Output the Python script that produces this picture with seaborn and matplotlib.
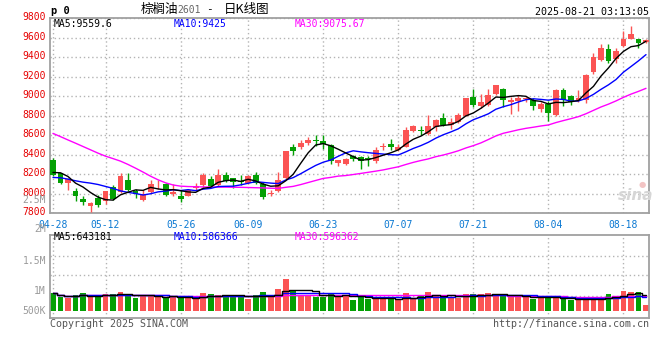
import numpy as np
import pandas as pd
import matplotlib
matplotlib.use("Agg")
import matplotlib.pyplot as plt
import matplotlib.transforms as mtransforms
import seaborn as sns

# trading days 2025-04-28 .. 2025-08-21 (Labour Day and Dragon Boat holidays closed)
holidays = ["2025-05-01", "2025-05-02", "2025-05-05", "2025-06-02"]
tick_dates = ["04-28", "05-12", "05-26", "06-09", "06-23", "07-07", "07-21", "08-04", "08-18"]

open_px = [8350, 8210, 8115, 8027, 7949, 7870, 7956, 7928, 8072, 8014,
           8143, 8024, 7932, 8017, 8095, 8102, 7993, 7980, 7980, 8061,
           8085, 8153, 8092, 8194, 8160, 8130, 8109, 8194, 8102, 7993,
           8024, 8160, 8481, 8474, 8525, 8545, 8542, 8501, 8314, 8304,
           8389, 8373, 8362, 8339, 8475, 8509, 8451, 8482, 8645, 8655,
           8611, 8680, 8772, 8707, 8731, 8799, 8993, 8894, 8908, 9024,
           9070, 8939, 8946, 8970, 8963, 8871, 8919, 8803, 9064, 9003,
           8959, 8963, 9251, 9366, 9481, 9380, 9515, 9590, 9583, 9556]
high_px = [8370, 8215, 8160, 8058, 7973, 7912, 7990, 8024, 8085, 8211,
           8211, 8051, 8037, 8143, 8143, 8113, 8099, 8037, 8048, 8109,
           8208, 8181, 8256, 8218, 8164, 8188, 8191, 8225, 8116, 8041,
           8225, 8440, 8512, 8546, 8580, 8604, 8597, 8505, 8348, 8362,
           8399, 8390, 8390, 8475, 8520, 8560, 8509, 8680, 8703, 8697,
           8809, 8765, 8826, 8779, 8826, 8980, 9071, 9017, 9071, 9113,
           9085, 8986, 9014, 8993, 8980, 8939, 8946, 9075, 9081, 9014,
           9061, 9227, 9440, 9535, 9535, 9495, 9670, 9715, 9590, 9590]
low_px = [8180, 8105, 8040, 7922, 7880, 7810, 7860, 7894, 7939, 8007,
          8031, 7952, 7928, 8007, 8048, 7980, 7980, 7918, 7973, 8041,
          8065, 8068, 8082, 8116, 8055, 8085, 8102, 8102, 7949, 7980,
          8020, 8150, 8399, 8457, 8498, 8491, 8457, 8304, 8280, 8290,
          8331, 8253, 8281, 8312, 8451, 8451, 8441, 8475, 8635, 8600,
          8601, 8645, 8697, 8662, 8724, 8795, 8884, 8874, 8901, 9014,
          8890, 8820, 8844, 8939, 8861, 8834, 8742, 8800, 8895, 8905,
          8939, 8925, 9230, 9360, 9340, 9340, 9505, 9583, 9491, 9549]
close_px = [8190, 8115, 8155, 7973, 7911, 7910, 7881, 8024, 7949, 8184,
            8041, 8000, 8000, 8102, 8105, 7990, 8014, 7945, 8041, 8082,
            8194, 8075, 8194, 8126, 8116, 8122, 8184, 8109, 7962, 8010,
            8143, 8440, 8443, 8525, 8549, 8540, 8512, 8331, 8348, 8358,
            8355, 8332, 8355, 8451, 8485, 8475, 8482, 8652, 8697, 8645,
            8697, 8755, 8707, 8738, 8806, 8980, 8908, 8942, 9010, 9113,
            8960, 8963, 8980, 8975, 8895, 8919, 8827, 9064, 8963, 8939,
            8980, 9217, 9400, 9488, 9359, 9461, 9583, 9640, 9546, 9576]
ma5_head = [8218, 8215, 8177, 8109]
ma10_head = [8167, 8164, 8150, 8133, 8119, 8109, 8095, 8075, 8055]
ma30_head = [8618, 8585, 8551, 8518, 8484, 8450, 8416, 8385, 8360, 8334,
             8300, 8262, 8222, 8180, 8143, 8112, 8090, 8078, 8074, 8072,
             8070, 8069, 8068, 8068, 8067, 8066, 8064, 8062, 8060]

volume_k = [745, 569, 528, 637, 718, 582, 663, 691, 691, 772,
            596, 528, 637, 637, 556, 556, 569, 541, 528, 528,
            731, 691, 637, 637, 582, 637, 488, 637, 772, 556,
            894, 1300, 813, 663, 610, 582, 582, 718, 637, 637,
            447, 582, 488, 541, 488, 488, 488, 731, 488, 637,
            772, 610, 582, 582, 515, 691, 691, 691, 731, 637,
            691, 582, 582, 582, 488, 582, 610, 541, 488, 447,
            447, 569, 488, 488, 691, 596, 813, 772, 772, 244]

price_ma_text = ["MA5:9559.6", "MA10:9425", "MA30:9075.67"]
vol_ma_text = ["MA5:643181", "MA10:586366", "MA30:596362"]
vol_axis_labels = ["2.5M", "2M", "1.5M", "1M", "500K"]

RED = "#fb5454"
GREEN = "#04a004"
GRID = "#b4b4b4"
FRAME = "#a0a0a0"
MONO = "DejaVu Sans Mono"

sns.set_theme(style="white")
plt.rcParams["font.family"] = [MONO, "Noto Sans CJK SC"]

dates = pd.bdate_range("2025-04-28", "2025-08-21")
dates = dates[~dates.isin(pd.to_datetime(holidays))]
df = pd.DataFrame({"date": dates.strftime("%m-%d"), "open": open_px, "high": high_px,
                   "low": low_px, "close": close_px, "vol": np.array(volume_k) * 1000})
df["i"] = np.arange(len(df))
df["up"] = np.where(df["close"] >= df["open"], "up", "down")

ma5 = df["close"].rolling(5).mean()
ma5.iloc[:len(ma5_head)] = ma5_head
ma10 = df["close"].rolling(10).mean()
ma10.iloc[:len(ma10_head)] = ma10_head
ma30 = df["close"].rolling(30).mean()
ma30.iloc[:len(ma30_head)] = ma30_head

W, H = 660, 360
fig = plt.figure(figsize=(W / 100, H / 100), dpi=100)
fig.patch.set_facecolor("white")


def fx(x):
    return x / W


def fy(y):
    return 1 - y / H


ax = fig.add_axes([fx(50), fy(213.3), 599 / W, 195.3 / H])
axv = fig.add_axes([fx(50), fy(318), 599 / W, 83.3 / H])

colors = np.where(df["up"] == "up", RED, GREEN)

# candles
ax.vlines(df["i"], df["low"], df["high"], colors=colors, lw=1.0, zorder=3)
body_low = np.minimum(df["open"], df["close"])
body_h = np.maximum((df["close"] - df["open"]).abs(), 10)
ax.bar(df["i"], body_h, bottom=body_low, width=0.78, color=colors, linewidth=0, zorder=4)

sns.lineplot(x=df["i"], y=ma30, ax=ax, color="#ff00ff", linewidth=1.0, zorder=5)
sns.lineplot(x=df["i"], y=ma10, ax=ax, color="#0000ff", linewidth=1.0, zorder=5)
sns.lineplot(x=df["i"], y=ma5, ax=ax, color="black", linewidth=1.0, zorder=6)

tick_pos = [df.index[df["date"] == d][0] for d in tick_dates]

ax.set_xlim(-0.4, len(df) - 0.6)
ax.set_ylim(7800, 9800)
ax.set_xticks(tick_pos, tick_dates)
price_ticks = list(range(7800, 9801, 200))
ax.set_yticks(price_ticks, [str(v) for v in price_ticks])
ax.set_xlabel("")
ax.set_ylabel("")
ax.tick_params(axis="y", length=0, pad=3, labelsize=7, labelcolor="#e60000")
ax.tick_params(axis="x", length=0, pad=4.5, labelsize=7, labelcolor="#0a78d2")
lift = mtransforms.ScaledTranslation(0, 2 / 100, fig.dpi_scale_trans)
for lbl in ax.get_yticklabels():
    lbl.set_transform(lbl.get_transform() + lift)
ax.grid(True, linestyle=(0, (1, 2)), color=GRID, linewidth=1.0)

# volume
sns.barplot(data=df, x="i", y="vol", hue="up", palette={"up": RED, "down": GREEN},
            native_scale=True, dodge=False, width=0.78, saturation=1, errorbar=None,
            legend=False, linewidth=0, ax=axv)
vma5 = df["vol"].rolling(5, min_periods=1).mean()
vma10 = df["vol"].rolling(10, min_periods=1).mean()
vma30 = df["vol"].rolling(30, min_periods=1).mean()
sns.lineplot(x=df["i"], y=vma30, ax=axv, color="#ff00ff", linewidth=1.0, drawstyle="steps-mid")
sns.lineplot(x=df["i"], y=vma10, ax=axv, color="#0000ff", linewidth=1.0, drawstyle="steps-mid")
sns.lineplot(x=df["i"], y=vma5, ax=axv, color="black", linewidth=1.0, drawstyle="steps-mid")

per_px = 40600  # volume units per pixel in the lower panel
axv.set_xlim(-0.4, len(df) - 0.6)
axv.set_ylim(-(318 - 311) * per_px, (311 - 234.7) * per_px)
axv.set_xticks(tick_pos, [""] * len(tick_pos))
axv.set_yticks([(311 - yp) * per_px for yp in (255.7, 275.3, 295.7)], ["", "", ""])
axv.set_xlabel("")
axv.set_ylabel("")
axv.tick_params(length=0)
axv.grid(True, linestyle=(0, (1, 2)), color=GRID, linewidth=1.0)

for a in (ax, axv):
    a.set_facecolor("white")
    for s in a.spines.values():
        s.set_visible(True)
        s.set_color(FRAME)
        s.set_linewidth(1.3)
    a.set_axisbelow(True)

# volume axis labels as drawn by the source chart
for lab, yp in zip(vol_axis_labels, [200, 229, 261, 291, 311]):
    fig.text(fx(46), fy(yp), lab, ha="right", va="center", fontsize=7, color="#9a9a9a")

# MA legends
for txt, xs, col in zip(price_ma_text, [54, 174, 295], ["black", "#0000ff", "#ff00ff"]):
    fig.text(fx(xs), fy(24), txt, ha="left", va="center", fontsize=7, color=col)
for txt, xs, col in zip(vol_ma_text, [54, 174, 295], ["black", "#0000ff", "#ff00ff"]):
    fig.text(fx(xs), fy(237.5), txt, ha="left", va="center", fontsize=7, color=col)

# header
fig.text(fx(51), fy(10.5), "p 0", ha="left", va="center", fontsize=7.5, fontweight="bold", color="black")
fig.text(fx(141), fy(9.5), "棕榈油", ha="left", va="center", fontsize=9,
         family=["Noto Sans CJK SC"], color="black")
fig.text(fx(177), fy(10), "2601", ha="left", va="center", fontsize=7, color="#666666")
fig.text(fx(206), fy(9.5), "-", ha="left", va="center", fontsize=8, color="black")
fig.text(fx(224), fy(9.5), "日K线图", ha="left", va="center", fontsize=9,
         family=["Noto Sans CJK SC"], color="black")
fig.text(fx(649), fy(12.3), "2025-08-21 03:13:05", ha="right", va="center", fontsize=7.2, color="black")

# footer
fig.text(fx(50), fy(324), "Copyright 2025 SINA.COM", ha="left", va="center", fontsize=7.2, color="#555555")
fig.text(fx(649), fy(324), "http://finance.sina.com.cn", ha="right", va="center", fontsize=7.2, color="#555555")

# watermark
fig.text(fx(636), fy(196), "sina", ha="center", va="center", fontsize=11, fontstyle="italic",
         fontweight="bold", color="#d6d6d6", family=["DejaVu Sans"])
fig.text(fx(642), fy(184), "●", ha="center", va="center", fontsize=6, color="#f3c4c4",
         family=["DejaVu Sans"])

fig.savefig("out.png", dpi=100, facecolor="white")
